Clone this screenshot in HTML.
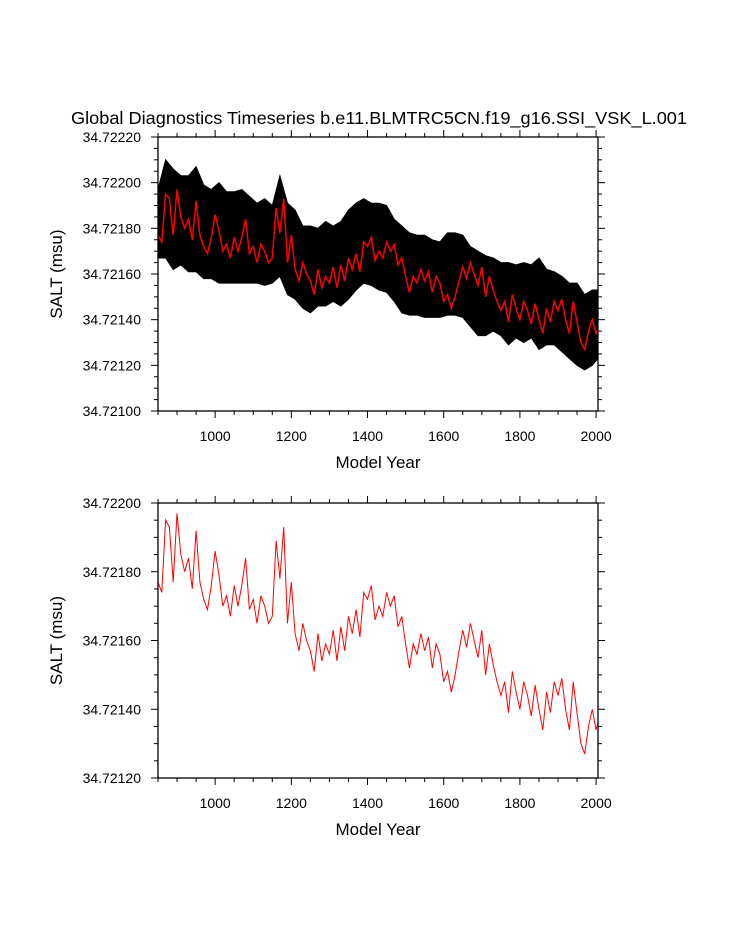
<!DOCTYPE html>
<html><head><meta charset="utf-8"><style>
html,body{margin:0;padding:0;background:#fff;}
svg{display:block;font-family:"Liberation Sans",Arial,sans-serif;}
</style></head><body>
<svg id="chart" width="733" height="945" viewBox="0 0 733 945" xmlns="http://www.w3.org/2000/svg">
<rect width="733" height="945" fill="#fff"/>
<text x="379" y="124" font-size="17.5" text-anchor="middle" textLength="616" lengthAdjust="spacingAndGlyphs">Global Diagnostics Timeseries b.e11.BLMTRC5CN.f19_g16.SSI_VSK_L.001</text>
<g id="top"></g>
<g id="bot"></g>
</svg>
<script>
// red: annual-mean series (decadal samples), values in units of 1e-5 above 34.72
const redYears = [];
for (let y = 850; y <= 2000; y += 10) redYears.push(y);
redYears.push(2005);
const redVals = [177,174,195,193,177,197,185,180,184,175,192,177,172,169,176,186,179,170,173,167,176,170,176,184,169,172,165,173,170,165,167,189,178,193,165,177,162,157,165,160,157,151,162,154,159,156,163,154,164,157,167,162,169,161,174,172,176,166,170,167,174,170,173,164,167,159,152,159,156,162,157,161,152,159,156,148,151,145,150,157,163,158,165,160,155,163,150,159,153,148,144,148,139,151,145,140,148,144,138,147,140,134,145,139,148,144,149,140,134,148,139,130,127,135,140,134,136];
// black: monthly series envelope (20-year samples)
const envYears = [850,870,890,910,930,950,970,990,1010,1030,1050,1070,1090,1110,1130,1150,1170,1190,1210,1230,1250,1270,1290,1310,1330,1350,1370,1390,1410,1430,1450,1470,1490,1510,1530,1550,1570,1590,1610,1630,1650,1670,1690,1710,1730,1750,1770,1790,1810,1830,1850,1870,1890,1910,1930,1950,1970,1990,2005];
const blackHigh = [197,210,206,203,203,207,199,197,200,196,196,197,194,191,193,190,203,191,188,181,181,180,183,181,183,188,191,193,191,191,190,184,181,178,177,177,175,174,178,178,177,172,170,168,167,165,165,164,165,164,167,162,161,159,156,156,151,153,153];
const blackLow = [167,167,162,164,161,161,158,158,156,156,156,156,156,156,155,156,159,151,149,145,143,146,146,148,146,149,153,156,155,153,152,148,143,142,142,141,141,141,142,142,141,137,133,133,135,133,129,132,130,132,127,129,129,126,123,120,118,120,123];
const xTicks = [1000,1200,1400,1600,1800,2000];
const topYTicks = [100,120,140,160,180,200,220];
const botYTicks = [120,140,160,180,200];

const NS = "http://www.w3.org/2000/svg";
function mk(tag, attrs, parent){const e=document.createElementNS(NS,tag);for(const k in attrs)e.setAttribute(k,attrs[k]);parent.appendChild(e);return e;}

function panel(g, L, R, T, B, yMin, yMax, yTicks, drawBlack){
  const X = v => L + (v-850)/(2005-850)*(R-L);
  const Y = v => B - (v-yMin)/(yMax-yMin)*(B-T);
  if (drawBlack){
    let d = "";
    envYears.forEach((yr,i)=>{d += (i?"L":"M")+X(yr).toFixed(1)+","+Y(blackHigh[i]).toFixed(1);});
    for (let i=envYears.length-1;i>=0;i--) d += "L"+X(envYears[i]).toFixed(1)+","+Y(blackLow[i]).toFixed(1);
    const p = mk("path",{d:d+"Z",fill:"#000",stroke:"#000","stroke-width":"1"},g);
    
    
  }
  let pts = redYears.map((yr,i)=>X(yr).toFixed(1)+","+Y(redVals[i]).toFixed(1)).join(" ");
  const pl = mk("polyline",{points:pts,fill:"none",stroke:"#f00","stroke-width":drawBlack?"1.5":"1"},g);
  
  
  const fr = mk("rect",{x:L,y:T,width:R-L,height:B-T,fill:"none",stroke:"#000","stroke-width":"1.3"},g);
  
  
  for (let yr=850; yr<=2005; yr+=50){
    const major = yr%200===0, len = major?7:4, x=X(yr);
    mk("line",{x1:x,x2:x,y1:B,y2:B+len,stroke:"#000"},g);
    mk("line",{x1:x,x2:x,y1:T,y2:T-len,stroke:"#000"},g);
  }
  xTicks.forEach(v=>{
    const t = mk("text",{x:X(v),y:B+30,"font-size":"14","text-anchor":"middle"},g);
    t.textContent = v;
    
    
  });
  for (let v=yMin; v<=yMax; v+=5){
    const major = v%20===0, len = major?7:4, y=Y(v);
    mk("line",{x1:L,x2:L-len,y1:y,y2:y,stroke:"#000"},g);
    mk("line",{x1:R,x2:R+len,y1:y,y2:y,stroke:"#000"},g);
  }
  yTicks.forEach(v=>{
    const t = mk("text",{x:L-17,y:Y(v)+5,"font-size":"14","text-anchor":"end"},g);
    t.textContent = (34.72 + v*1e-5).toFixed(5);
    
    
  });
  const xt = mk("text",{x:(L+R)/2,y:B+57,"font-size":"17","text-anchor":"middle"},g);
  xt.textContent = "Model Year";
  
  
  const cy=(T+B)/2;
  const yt = mk("text",{x:62,y:cy,"font-size":"17","text-anchor":"middle",transform:"rotate(-90 62 "+cy+")"},g);
  yt.textContent = "SALT (msu)";
  
  
}
panel(document.getElementById("top"), 158, 598, 137, 411, 100, 220, topYTicks, true);
panel(document.getElementById("bot"), 158, 598, 503, 778, 120, 200, botYTicks, false);
</script>
</body></html>
